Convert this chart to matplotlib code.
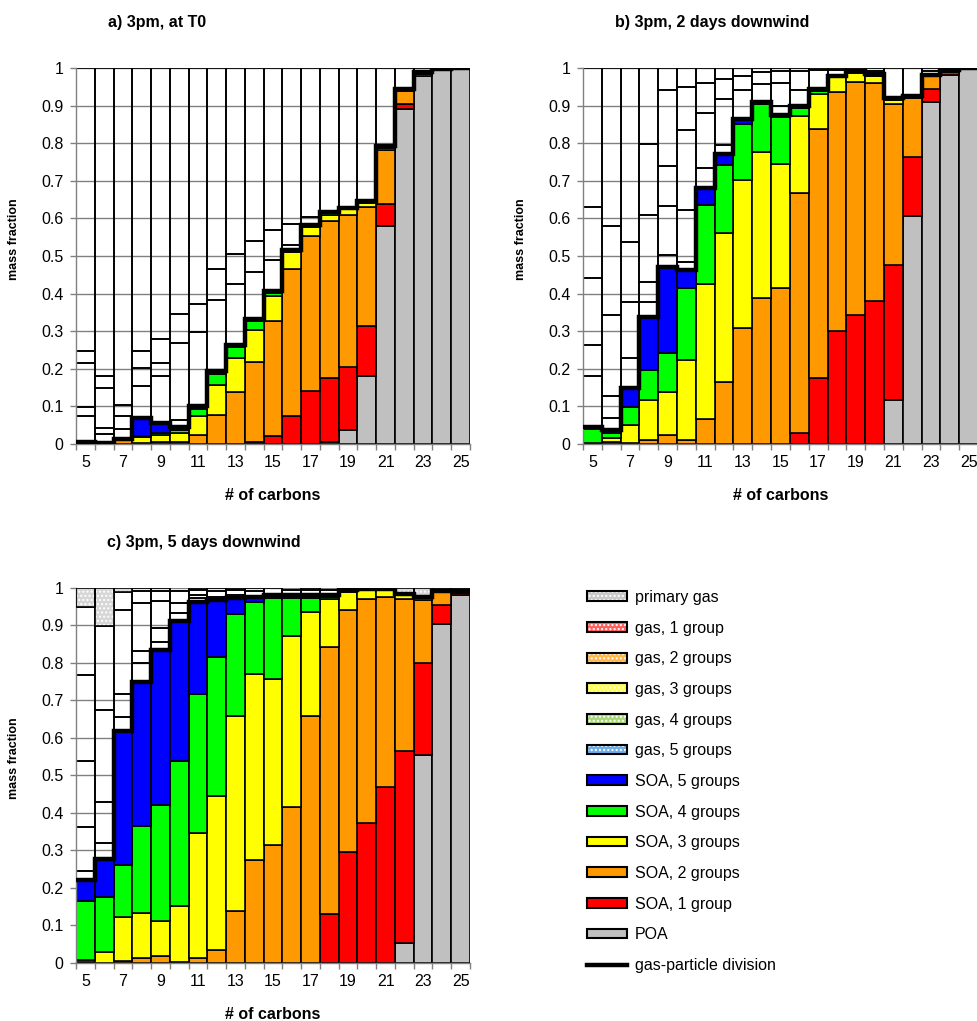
import numpy as np
import matplotlib
matplotlib.use('Agg')
import matplotlib.pyplot as plt
from matplotlib.patches import Patch
from matplotlib.lines import Line2D
from matplotlib.legend_handler import HandlerTuple

plt.rcParams['font.family'] = ['Liberation Sans', 'DejaVu Sans']
plt.rcParams['hatch.linewidth'] = 1.0

carbons = np.arange(5, 26)
edges = np.arange(4.5, 26.0, 1.0)

# ---- a) 3pm, at T0 ----
a_poa = [0, 0, 0, 0, 0, 0, 0, 0, 0, 0, 0, 0, 0, 0.005, 0.036, 0.18, 0.579, 0.89, 0.979, 0.996, 1.0]
a_soa1 = [0, 0, 0, 0, 0, 0, 0, 0, 0, 0.005, 0.022, 0.074, 0.142, 0.17, 0.168, 0.133, 0.06, 0.015, 0, 0.002, 0]
a_soa2 = [0.004, 0.003, 0.01, 0.002, 0.004, 0.004, 0.025, 0.078, 0.138, 0.212, 0.306, 0.392, 0.41, 0.419, 0.404, 0.317, 0.144, 0.035, 0.006, 0, 0]
a_soa3 = [0, 0, 0, 0.016, 0.021, 0.025, 0.049, 0.079, 0.091, 0.085, 0.065, 0.044, 0.025, 0.016, 0.016, 0.012, 0.004, 0.003, 0.003, 0, 0]
a_soa4 = [0, 0, 0.002, 0.004, 0.004, 0.009, 0.019, 0.029, 0.028, 0.025, 0.009, 0.004, 0.003, 0.004, 0.002, 0.002, 0.004, 0.002, 0.002, 0, 0]
a_soa5 = [0.001, 0, 0, 0.046, 0.026, 0.006, 0.008, 0.009, 0.007, 0.006, 0.006, 0.003, 0.003, 0.003, 0.001, 0.002, 0.001, 0, 0, 0, 0]
a_gas5 = [0.069, 0.024, 0, 0, 0, 0, 0, 0, 0, 0, 0, 0, 0, 0, 0, 0, 0, 0, 0, 0, 0]
a_gas4 = [0.025, 0.016, 0.028, 0.087, 0.127, 0.02, 0, 0, 0, 0, 0, 0, 0, 0, 0, 0, 0, 0, 0, 0, 0]
a_gas3 = [0.117, 0.105, 0.035, 0.047, 0.034, 0.205, 0.198, 0.189, 0.161, 0.124, 0.081, 0.011, 0, 0, 0, 0, 0, 0, 0, 0, 0]
a_gas2 = [0.031, 0.032, 0.029, 0.045, 0.062, 0.077, 0.074, 0.081, 0.081, 0.082, 0.079, 0.058, 0.02, 0, 0, 0, 0, 0, 0, 0, 0]
a_gas1 = [0.753, 0.82, 0.896, 0.753, 0.722, 0.654, 0.627, 0.535, 0.494, 0.461, 0.432, 0.414, 0.397, 0.383, 0.373, 0.354, 0.208, 0.055, 0.01, 0.002, 0]
a_prim = [0] * 21

# ---- b) 3pm, 2 days downwind ----
b_poa = [0, 0, 0, 0, 0, 0, 0, 0, 0, 0, 0, 0, 0, 0, 0, 0, 0.117, 0.607, 0.91, 0.982, 0.998]
b_soa1 = [0, 0, 0, 0, 0, 0, 0, 0, 0, 0, 0, 0.03, 0.176, 0.301, 0.343, 0.38, 0.36, 0.157, 0.035, 0.008, 0.002]
b_soa2 = [0, 0.004, 0.002, 0.011, 0.024, 0.011, 0.066, 0.166, 0.309, 0.387, 0.414, 0.638, 0.661, 0.635, 0.62, 0.581, 0.428, 0.156, 0.033, 0.004, 0]
b_soa3 = [0.003, 0.011, 0.048, 0.106, 0.115, 0.212, 0.359, 0.394, 0.392, 0.39, 0.332, 0.204, 0.093, 0.04, 0.024, 0.018, 0.009, 0.005, 0.004, 0, 0]
b_soa4 = [0.036, 0.015, 0.049, 0.08, 0.104, 0.193, 0.21, 0.183, 0.151, 0.126, 0.124, 0.022, 0.01, 0.004, 0.004, 0.005, 0.006, 0, 0, 0, 0]
b_soa5 = [0.007, 0.007, 0.049, 0.141, 0.228, 0.046, 0.046, 0.029, 0.013, 0.007, 0.006, 0.006, 0.005, 0, 0, 0, 0, 0, 0, 0, 0]
b_gas5 = [0.136, 0.031, 0, 0.04, 0.031, 0.021, 0, 0, 0, 0, 0, 0, 0, 0, 0, 0, 0, 0, 0, 0, 0]
b_gas4 = [0.081, 0.06, 0.081, 0.053, 0.131, 0.139, 0.052, 0.024, 0, 0, 0.024, 0, 0, 0, 0, 0, 0, 0, 0, 0, 0]
b_gas3 = [0.179, 0.215, 0.149, 0.179, 0.106, 0.212, 0.147, 0.121, 0.077, 0.048, 0.06, 0.042, 0, 0, 0, 0, 0, 0, 0, 0, 0]
b_gas2 = [0.189, 0.236, 0.16, 0.189, 0.202, 0.116, 0.08, 0.055, 0.038, 0.032, 0.031, 0.049, 0.049, 0.014, 0, 0.007, 0, 0, 0.01, 0, 0]
b_gas1 = [0.369, 0.421, 0.462, 0.201, 0.059, 0.05, 0.04, 0.028, 0.02, 0.01, 0.009, 0.009, 0.006, 0.006, 0.009, 0.009, 0.08, 0.075, 0.008, 0.006, 0]
b_prim = [0] * 21

# ---- c) 3pm, 5 days downwind ----
c_poa = [0, 0, 0, 0, 0, 0, 0, 0, 0, 0, 0, 0, 0, 0, 0, 0, 0, 0.053, 0.555, 0.902, 0.98]
c_soa1 = [0, 0, 0, 0, 0, 0, 0, 0, 0, 0, 0, 0, 0, 0.131, 0.295, 0.374, 0.468, 0.512, 0.244, 0.052, 0.005]
c_soa2 = [0.003, 0, 0.006, 0.012, 0.018, 0.002, 0.013, 0.035, 0.139, 0.275, 0.315, 0.415, 0.659, 0.71, 0.646, 0.595, 0.508, 0.405, 0.168, 0.034, 0.005]
c_soa3 = [0.006, 0.028, 0.116, 0.121, 0.095, 0.149, 0.333, 0.409, 0.518, 0.494, 0.441, 0.455, 0.277, 0.128, 0.047, 0.025, 0.018, 0.009, 0.005, 0.003, 0]
c_soa4 = [0.155, 0.149, 0.14, 0.233, 0.308, 0.386, 0.371, 0.371, 0.273, 0.192, 0.216, 0.103, 0.036, 0.007, 0.006, 0.002, 0.002, 0.003, 0.004, 0, 0]
c_soa5 = [0.056, 0.101, 0.356, 0.382, 0.413, 0.373, 0.244, 0.152, 0.042, 0.015, 0.008, 0.006, 0.007, 0.003, 0, 0, 0, 0, 0, 0, 0]
c_gas5 = [0.026, 0, 0, 0.051, 0.02, 0, 0, 0, 0, 0, 0, 0, 0, 0, 0, 0, 0, 0, 0, 0, 0]
c_gas4 = [0.116, 0.041, 0.036, 0.032, 0.038, 0.022, 0.012, 0, 0, 0, 0, 0, 0, 0, 0, 0, 0, 0, 0, 0, 0]
c_gas3 = [0.177, 0.11, 0.063, 0.127, 0.071, 0.026, 0.007, 0.009, 0.008, 0, 0, 0, 0, 0, 0, 0, 0, 0, 0, 0, 0]
c_gas2 = [0.228, 0.245, 0.224, 0.033, 0.027, 0.032, 0.014, 0.015, 0.014, 0.015, 0, 0.015, 0.015, 0.015, 0, 0, 0, 0, 0, 0, 0]
c_gas1 = [0.18, 0.224, 0.047, 0.009, 0.01, 0.01, 0.006, 0.009, 0.006, 0.009, 0.02, 0.006, 0.006, 0.006, 0.006, 0.004, 0.004, 0, 0, 0.009, 0.01]
c_prim = [0.053, 0.102, 0.012, 0, 0, 0, 0, 0, 0, 0, 0, 0, 0, 0, 0, 0, 0, 0.018, 0.024, 0, 0]

soa_colors = ['#c0c0c0', '#ff0000', '#ff9900', '#ffff00', '#00ff00', '#0000ff']
prim_color = '#d6d6d6'
grid_color = '#808080'
FS = 11.5


def draw_panel(ax, particle, gas, prim):
    bottom = np.zeros(len(carbons))
    for vals, col in zip(particle, soa_colors):
        vals = np.array(vals, dtype=float)
        m = vals > 0
        ax.bar(carbons[m], vals[m], 1.0, bottom=bottom[m], color=col,
               edgecolor='black', linewidth=1.2, zorder=2)
        bottom += vals
    total = bottom.copy()
    for vals in gas:
        vals = np.array(vals, dtype=float)
        m = vals > 0
        ax.bar(carbons[m], vals[m], 1.0, bottom=bottom[m], facecolor='none',
               edgecolor='black', linewidth=1.2, zorder=2)
        bottom += vals
    prim = np.array(prim, dtype=float)
    m = prim > 0
    ax.bar(carbons[m], prim[m], 1.0, bottom=bottom[m], facecolor=prim_color,
           edgecolor='white', hatch='....', linewidth=0, zorder=2)
    ax.bar(carbons[m], prim[m], 1.0, bottom=bottom[m], facecolor='none',
           edgecolor='black', linewidth=1.2, zorder=3)

    # gas-particle division
    ax.stairs(total, edges, baseline=None, color='black', linewidth=3.2, zorder=4)

    ax.set_xlim(4.5, 25.5)
    ax.set_ylim(0, 1)
    ax.set_yticks(np.arange(0, 1.01, 0.1))
    ax.set_yticklabels(['0', '0.1', '0.2', '0.3', '0.4', '0.5', '0.6', '0.7', '0.8', '0.9', '1'])
    ax.set_xticks(carbons[::2])
    ax.set_xticklabels([str(c) for c in carbons[::2]])
    ax.set_xticks(edges, minor=True)
    ax.tick_params(axis='x', which='major', length=0, pad=8, labelsize=FS)
    ax.tick_params(axis='x', which='minor', length=4, width=1, color=grid_color)
    ax.tick_params(axis='y', length=4, width=1, color=grid_color, pad=5, labelsize=FS)
    ax.grid(axis='y', color=grid_color, linewidth=1)
    ax.set_axisbelow(True)
    for s in ['top', 'right']:
        ax.spines[s].set_visible(False)
    for s in ['left', 'bottom']:
        ax.spines[s].set_color(grid_color)
        ax.spines[s].set_linewidth(1)
    ax.set_ylabel('mass fraction', fontsize=9, fontweight='bold')
    ax.yaxis.set_label_coords(-0.142, 0.545)
    ax.text(0.5, -0.136, '# of carbons', transform=ax.transAxes, ha='center',
            va='center', fontsize=FS, fontweight='bold')


fig = plt.figure(figsize=(9.77, 10.21), dpi=100)
W, H = 977.0, 1021.0
ax_a = fig.add_axes([76 / W, 1 - 444 / H, 394 / W, 376 / H])
ax_b = fig.add_axes([583 / W, 1 - 444 / H, 395 / W, 376 / H])
ax_c = fig.add_axes([76 / W, 1 - 963 / H, 394 / W, 375.5 / H])

draw_panel(ax_a, [a_poa, a_soa1, a_soa2, a_soa3, a_soa4, a_soa5],
           [a_gas5, a_gas4, a_gas3, a_gas2, a_gas1], a_prim)
draw_panel(ax_b, [b_poa, b_soa1, b_soa2, b_soa3, b_soa4, b_soa5],
           [b_gas5, b_gas4, b_gas3, b_gas2, b_gas1], b_prim)
draw_panel(ax_c, [c_poa, c_soa1, c_soa2, c_soa3, c_soa4, c_soa5],
           [c_gas5, c_gas4, c_gas3, c_gas2, c_gas1], c_prim)

fig.text(108 / W, 1 - 22 / H, 'a) 3pm, at T0', fontsize=FS, fontweight='bold', va='center')
fig.text(615 / W, 1 - 22 / H, 'b) 3pm, 2 days downwind', fontsize=FS, fontweight='bold', va='center')
fig.text(107 / W, 1 - 543 / H, 'c) 3pm, 5 days downwind', fontsize=FS, fontweight='bold', va='center')

# legend
gas_legend = [('primary gas', '#c8c8c8'), ('gas, 1 group', '#ff6060'),
              ('gas, 2 groups', '#ffb84a'), ('gas, 3 groups', '#ffff50'),
              ('gas, 4 groups', '#a8d878'), ('gas, 5 groups', '#6eaee8')]
soa_legend = [('SOA, 5 groups', soa_colors[5]), ('SOA, 4 groups', soa_colors[4]),
              ('SOA, 3 groups', soa_colors[3]), ('SOA, 2 groups', soa_colors[2]),
              ('SOA, 1 group', soa_colors[1]), ('POA', soa_colors[0])]
handles, labels = [], []
for lab, col in gas_legend:
    base = Patch(facecolor=col, edgecolor='white', hatch='....', linewidth=0)
    outline = Patch(facecolor='none', edgecolor='black', linewidth=1.5)
    handles.append((base, outline))
    labels.append(lab)
for lab, col in soa_legend:
    handles.append(Patch(facecolor=col, edgecolor='black', linewidth=1.5))
    labels.append(lab)
handles.append(Line2D([0], [0], color='black', linewidth=3.2))
labels.append('gas-particle division')

fig.legend(handles, labels, loc='upper left', bbox_to_anchor=(587 / W, 1 - 590 / H),
           frameon=False, fontsize=FS, handlelength=2.5, handleheight=0.56,
           handletextpad=0.5, labelspacing=0.98, borderpad=0, borderaxespad=0,
           handler_map={tuple: HandlerTuple(ndivide=1)})

fig.savefig('out.png', dpi=100)
